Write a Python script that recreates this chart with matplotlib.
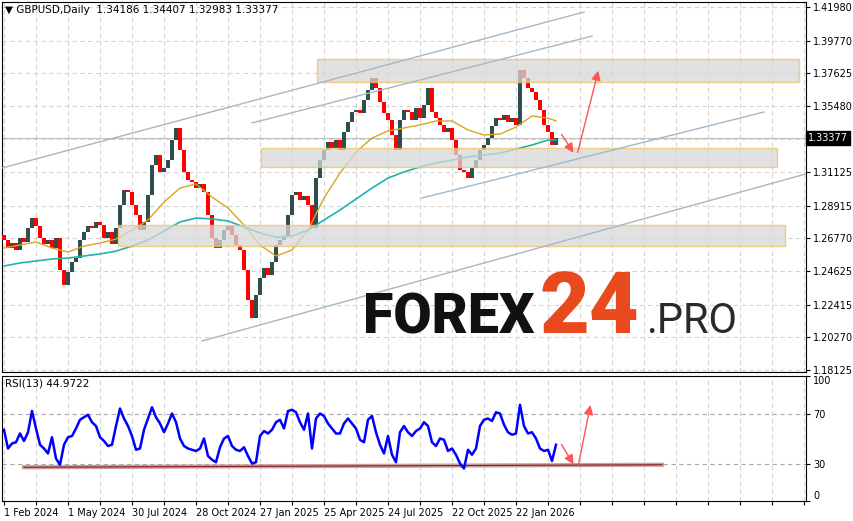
import matplotlib.pyplot as plt
from matplotlib.patches import Rectangle
import matplotlib.transforms as mtransforms
import numpy as np

closes = [1.2667, 1.2614, 1.2647, 1.2601, 1.2680, 1.2654, 1.2746, 1.2811, 1.2759, 1.2680,
          1.2640, 1.2667, 1.2614, 1.2680, 1.2470, 1.2371, 1.2456, 1.2522, 1.2548, 1.2667,
          1.2719, 1.2759, 1.2746, 1.2785, 1.2765, 1.2680, 1.2719, 1.2640, 1.2746, 1.2897,
          1.2995, 1.2982, 1.2897, 1.2831, 1.2732, 1.2785, 1.2962, 1.3160, 1.3225, 1.3114,
          1.3140, 1.3192, 1.3324, 1.3403, 1.3258, 1.3114, 1.3061, 1.3048, 1.3008, 1.3035,
          1.2982, 1.2831, 1.2680, 1.2614, 1.2667, 1.2732, 1.2759, 1.2700, 1.2634, 1.2601,
          1.2470, 1.2272, 1.2154, 1.2305, 1.2417, 1.2483, 1.2437, 1.2522, 1.2634, 1.2667,
          1.2693, 1.2831, 1.2962, 1.2982, 1.2930, 1.2956, 1.2897, 1.2746, 1.3074, 1.3192,
          1.3258, 1.3311, 1.3271, 1.3324, 1.3258, 1.3377, 1.3442, 1.3508, 1.3521, 1.3501,
          1.3587, 1.3653, 1.3731, 1.3666, 1.3574, 1.3501, 1.3455, 1.3357, 1.3258, 1.3455,
          1.3521, 1.3508, 1.3455, 1.3534, 1.3469, 1.3554, 1.3666, 1.3508, 1.3469, 1.3423,
          1.3377, 1.3403, 1.3324, 1.3225, 1.3127, 1.3114, 1.3074, 1.3140, 1.3192, 1.3258,
          1.3291, 1.3337, 1.3416, 1.3469, 1.3455, 1.3488, 1.3442, 1.3469, 1.3423, 1.3784,
          1.3731, 1.3666, 1.3639, 1.3587, 1.3521, 1.3423, 1.3377, 1.3291, 1.33377]
first_open = 1.2700

# moving averages, read every 4th sample
ma_fast = [1.2614, 1.2634, 1.2654, 1.2614, 1.2588, 1.2627, 1.2647, 1.2673, 1.2732, 1.2798,
           1.2916, 1.3008, 1.3035, 1.2949, 1.2877, 1.2765, 1.2634, 1.2562, 1.2601, 1.2732,
           1.2943, 1.3107, 1.3245, 1.3337, 1.3383, 1.3403, 1.3423, 1.3449, 1.3449, 1.3390,
           1.3357, 1.3363, 1.3409, 1.3482, 1.3468, 1.3449]
ma_slow = [1.2496, 1.2516, 1.2529, 1.2542, 1.2548, 1.2562, 1.2575, 1.2594, 1.2627, 1.2667,
           1.2726, 1.2785, 1.2811, 1.2805, 1.2792, 1.2752, 1.2713, 1.2686, 1.2693, 1.2732,
           1.2798, 1.2864, 1.2936, 1.3008, 1.3074, 1.3114, 1.3147, 1.3173, 1.3192, 1.3212,
           1.3225, 1.3238, 1.3265, 1.3291, 1.3324, 1.3324]

rsi = [57, 42, 46, 47, 54, 48, 55, 72, 58, 45,
       42, 38, 51, 34, 29, 45, 51, 52, 58, 65,
       67, 69, 63, 60, 51, 48, 44, 45, 60, 74,
       66, 60, 52, 41, 42, 57, 66, 75, 67, 62,
       55, 62, 70, 63, 50, 44, 42, 41, 40, 42,
       50, 36, 33, 31, 43, 50, 52, 44, 41, 40,
       43, 36, 30, 31, 52, 56, 54, 57, 63, 65,
       58, 72, 73, 71, 63, 57, 70, 42, 66, 70,
       68, 62, 58, 54, 54, 62, 66, 62, 58, 49,
       47, 65, 68, 55, 45, 38, 52, 37, 31, 55,
       60, 55, 52, 56, 58, 63, 60, 47, 44, 50,
       49, 40, 42, 37, 30, 26, 41, 37, 42, 60,
       65, 66, 64, 71, 70, 61, 55, 53, 54, 77,
       60, 54, 55, 50, 42, 40, 41, 32, 44.97]

date_labels = ["1 Feb 2024", "1 May 2024", "30 Jul 2024", "28 Oct 2024", "27 Jan 2025",
               "25 Apr 2025", "24 Jul 2025", "22 Oct 2025", "22 Jan 2026"]
price_ticks = [1.41980, 1.39770, 1.37625, 1.35480, 1.33335, 1.31125, 1.28915,
               1.26770, 1.24625, 1.22415, 1.20270, 1.18125]

# support / resistance zones: (start bar, end bar, low, high)
zones = [(78.25, 198.75, 1.3705, 1.3856),
         (64.25, 193.25, 1.3147, 1.3271),
         (28.5, 195.25, 1.2627, 1.2765)]
# channel lines: (bar0, price0, bar1, price1)
channels = [(-0.5, 1.3140, 145, 1.4165),
            (62, 1.3436, 147, 1.4007),
            (104.5, 1.2943, 190, 1.3508),
            (49.5, 1.2003, 213, 1.3192)]

last_price = 1.33377

bars = np.arange(len(closes))
opens = np.array([first_open] + closes[:-1])
cl = np.array(closes)
ma_bars = np.r_[np.arange(0, 137, 4), 138]

fig = plt.figure(figsize=(8.54, 5.21), dpi=100)
ax = fig.add_axes([2/854, 149/521, 804/854, 370/521])
ax2 = fig.add_axes([2/854, 20/521, 804/854, 125/521])

grid_kw = dict(color='#d4d4d4', linestyle=(0, (4, 3)), linewidth=0.8)
xt = np.arange(0, 201, 8)

# main price panel
up = cl >= opens
ax.bar(bars[up], (cl - opens)[up], bottom=opens[up], width=0.8, color='#2f4f4f', zorder=3)
ax.bar(bars[~up], (cl - opens)[~up], bottom=opens[~up], width=0.8, color='#ff0000', zorder=3)
ax.plot(ma_bars, ma_fast, color='#daa520', lw=1, zorder=4)
ax.plot(ma_bars, ma_slow, color='#20b2aa', lw=1.2, zorder=4)
ax.axhline(last_price, color='#c0c0c0', lw=0.8, zorder=2)

for x0, x1, lo, hi in zones:
    ax.add_patch(Rectangle((x0, lo), x1 - x0, hi - lo, facecolor='#d8d8d8', alpha=0.75,
                           edgecolor='#f0c060', lw=1, zorder=5))
for x0, p0, x1, p1 in channels:
    ax.plot([x0, x1], [p0, p1], color='#a3b8c8', lw=1, zorder=6)

arrow_kw = dict(arrowstyle='-|>', color='#ff5555', lw=1, mutation_scale=14)
ax.annotate('', xy=(142.75, 1.3225), xytext=(139, 1.3377), arrowprops=arrow_kw, zorder=7)
ax.annotate('', xy=(148.75, 1.3797), xytext=(143.25, 1.3225), arrowprops=arrow_kw, zorder=7)

ax.set_xlim(-0.5, 200.5)
ax.set_ylim(1.17994, 1.42309)
ax.set_xticks(xt)
ax.set_xticklabels([])
ax.tick_params(axis='x', length=0)
ax.yaxis.tick_right()
ax.set_yticks(price_ticks)
ax.set_yticklabels(['%.5f' % t if abs(t - 1.33335) > 1e-6 else '' for t in price_ticks])
ax.tick_params(axis='y', length=3, labelsize=7, pad=2)
ax.grid(True, **grid_kw)
ax.set_axisbelow(True)
for s in ax.spines.values():
    s.set_color('black')

trans = mtransforms.blended_transform_factory(ax.transAxes, ax.transData)
ax.text(1.003, last_price, '%.5f' % last_price, transform=trans, color='white', fontsize=7,
        va='center', ha='left', bbox=dict(facecolor='black', edgecolor='black', pad=1.5))

# RSI panel
ax2.plot(bars, rsi, color='#0000ff', lw=1.8, zorder=3)
ax2.plot([5, 164.5], [27, 29], color='#c8a0a0', lw=3, zorder=2)
ax2.plot([5, 164.5], [27, 29], color='#8b1a1a', lw=0.8, zorder=2)
for lvl in (30, 70):
    ax2.axhline(lvl, color='#a8a8a8', linestyle=(0, (4, 3)), lw=0.8, zorder=1)
ax2.annotate('', xy=(142.75, 27.4), xytext=(139, 47.2), arrowprops=arrow_kw, zorder=7)
ax2.annotate('', xy=(146.75, 79), xytext=(143.5, 27.4), arrowprops=arrow_kw, zorder=7)

ax2.set_xlim(-0.5, 200.5)
ax2.set_ylim(0, 100)
ax2.set_xticks(xt)
ax2.set_xticklabels([date_labels[i // 2] if i % 2 == 0 and i // 2 < len(date_labels) else ''
                     for i in range(len(xt))], fontsize=7)
for lab in ax2.get_xticklabels():
    lab.set_ha('left')
ax2.tick_params(axis='x', length=3, pad=2)
ax2.grid(True, axis='x', **grid_kw)
ax2.yaxis.tick_right()
ax2.set_yticks([0, 30, 70, 100])
ax2.set_yticklabels(['0', '30', '70', '100'], fontsize=7)
ylabs = ax2.get_yticklabels()
ylabs[0].set_va('bottom')
ylabs[3].set_va('top')
ax2.tick_params(axis='y', length=3, pad=2)

fig.text(5/854, 1 - 10/521, '\u25bc GBPUSD,Daily  1.34186 1.34407 1.32983 1.33377',
         fontsize=7.5, va='center')
fig.text(5/854, 1 - 383/521, 'RSI(13) 44.9722', fontsize=7.5, va='center')

# watermark
fig.text(363/854, 1 - 333/521, 'FOREX', fontsize=40, fontweight='heavy', family='Roboto',
         color='#111111', va='baseline')
fig.text(539/854, 1 - 333/521, '24', fontsize=62, fontweight='heavy', family='Roboto',
         color='#e8491d', va='baseline')
fig.text(646/854, 1 - 333/521, '.PRO', fontsize=30, family='Roboto',
         color='#2a2a2a', va='baseline')

fig.savefig('out.png', dpi=100)
